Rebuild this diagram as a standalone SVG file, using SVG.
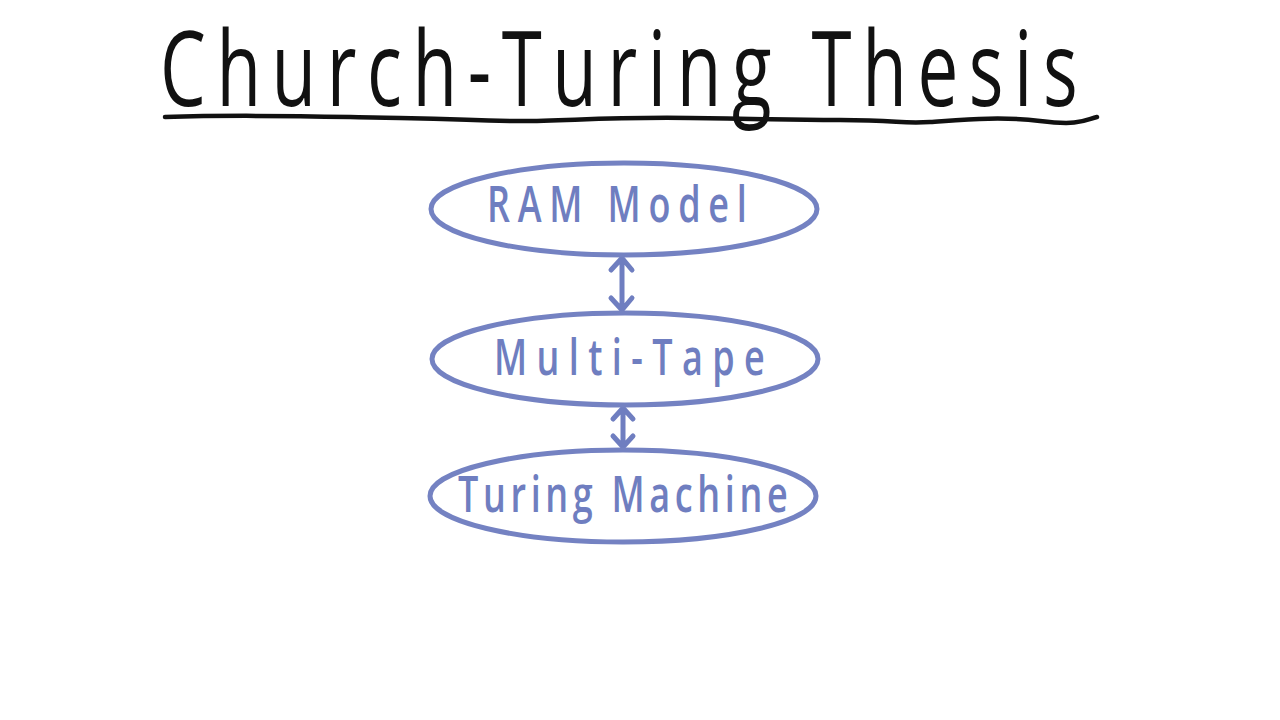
<svg xmlns="http://www.w3.org/2000/svg" width="1280" height="720" viewBox="0 0 1280 720">
<style>
.title{font-family:"Open Sans","Liberation Sans",sans-serif;font-size:104px;fill:#111;}
.node ellipse{fill:none;stroke:#7482c2;stroke-width:5;}
.node text{font-family:"Open Sans","Liberation Sans",sans-serif;font-size:50px;font-weight:600;fill:#6f7ec0;}
.conn{stroke:#6f7ec0;stroke-width:5;fill:none;stroke-linecap:round;stroke-linejoin:round;}
</style>
<rect width="1280" height="720" fill="#fff"/>
<g id="title">
<text class="title" transform="translate(160 106) scale(0.7 1)" x="0" y="0" textLength="1311" lengthAdjust="spacing">Church-Turing Thesis</text>
<path d="M165 117 C 260 114, 330 117, 400 118 S 470 121, 520 121 S 600 117, 690 118 S 780 120, 840 120 S 900 124, 930 122 S 1000 116, 1040 121 S 1085 120, 1097 117" fill="none" stroke="#111" stroke-width="4.5" stroke-linecap="round"/>
</g>
<g id="connectors">
<path class="conn" d="M622 259 L622 310 M611 270 L622 258 L632 270 M611 298 L622 310 L632 298"/>
<path class="conn" d="M623 409 L623 447 M613 419 L623 408 L633 419 M613 436 L623 447 L633 436"/>
</g>
<g id="node-ram" class="node">
<ellipse cx="624" cy="209" rx="193" ry="46"/>
<text transform="translate(487 222) scale(0.72 1)" x="0" y="0" textLength="361" lengthAdjust="spacing">RAM Model</text>
</g>
<g id="node-multitape" class="node">
<ellipse cx="625" cy="359" rx="193" ry="46"/>
<text transform="translate(494 375) scale(0.72 1)" x="0" y="0" textLength="376" lengthAdjust="spacing">Multi-Tape</text>
</g>
<g id="node-turing" class="node">
<ellipse cx="623" cy="496" rx="193" ry="46"/>
<text transform="translate(458 512) scale(0.72 1)" x="0" y="0" textLength="458" lengthAdjust="spacing">Turing Machine</text>
</g>
</svg>
